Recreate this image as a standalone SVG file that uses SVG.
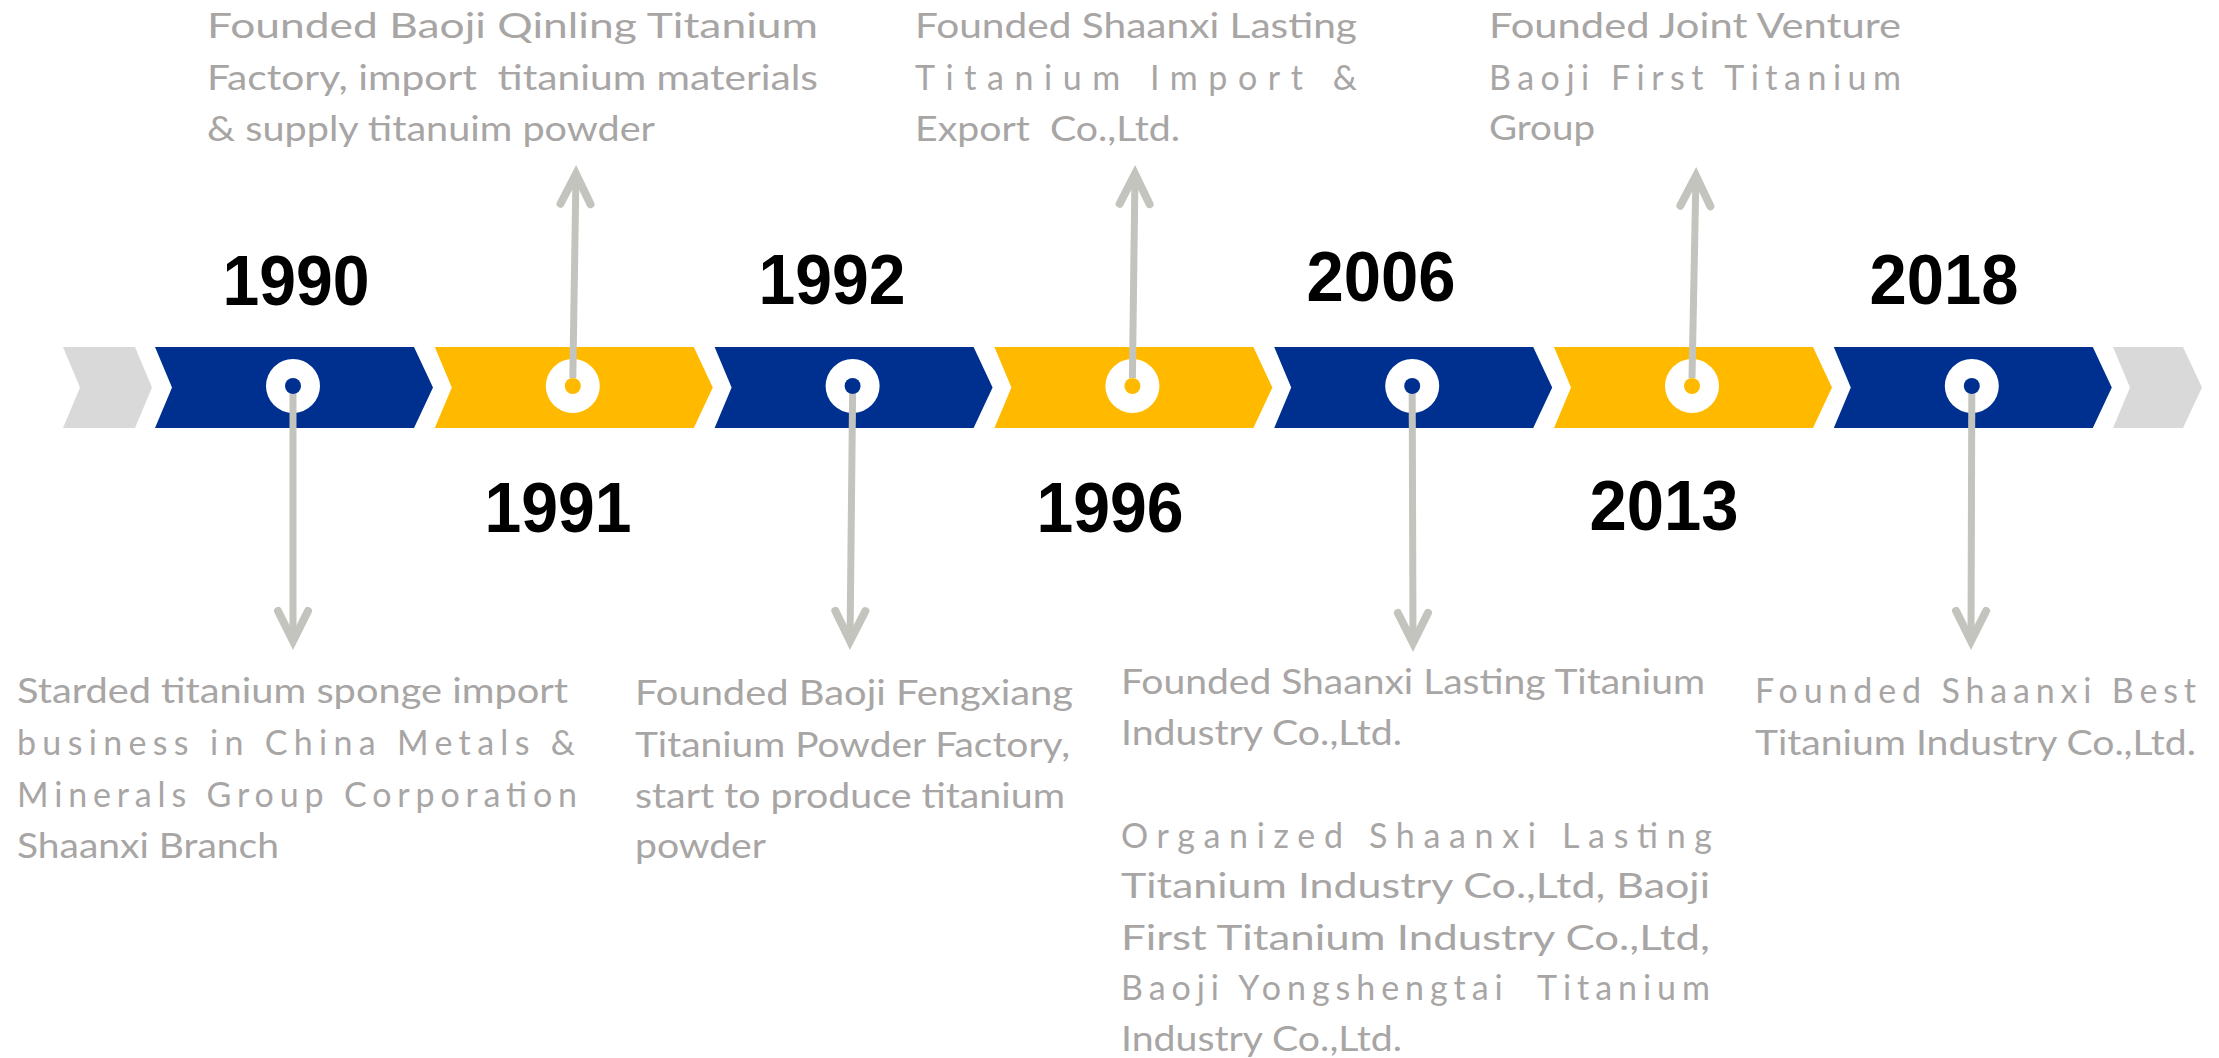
<svg xmlns="http://www.w3.org/2000/svg" width="2219" height="1058" viewBox="0 0 2219 1058">
<defs>
<style>
.blue{fill:#00308F}
.yellow{fill:#FFBA00}
.grey{fill:#D9D9D9}
.ring{fill:#FFFFFF}
.dotb{fill:#00308F}
.doty{fill:#FFBA00}
.year{font-family:"Liberation Sans",Arial,sans-serif;font-weight:700;font-size:70px;fill:#000;text-anchor:middle}
.desc{font-family:Lato,"Open Sans",sans-serif;font-size:34px;fill:#A8A5A5;white-space:pre}
.conn{stroke:#C4C4BE;stroke-width:7;fill:none;marker-end:url(#arr)}
</style>
<marker id="arr" markerUnits="userSpaceOnUse" viewBox="-40 -22 52 44" markerWidth="52" markerHeight="44" refX="1" refY="0" orient="auto">
<path d="M-30,-15 L0,0 L-30,15" fill="none" stroke="#C4C4BE" stroke-width="8" stroke-linecap="round" stroke-linejoin="miter"/>
</marker>
</defs>
<rect width="2219" height="1058" fill="#FFFFFF"/>

<g id="bar">
<polygon class="grey" points="63,347 135,347 152,387.5 135,428 63,428 80,387.5"/>
<polygon class="grey" points="2113,347 2183,347 2202,387.5 2183,428 2113,428 2130,387.5"/>
</g>

<g id="node-1990">
<polygon class="blue" points="155,347 414,347 433,387.5 414,428 155,428 172,387.5"/>
<circle class="ring" cx="293" cy="386" r="27"/>
<circle class="dotb" cx="293" cy="386" r="8"/>
<text class="year" x="296" y="305" textLength="147" lengthAdjust="spacingAndGlyphs">1990</text>
<text class="desc" x="17" y="703" textLength="551" lengthAdjust="spacingAndGlyphs">Starded titanium sponge import</text>
<text class="desc" x="17" y="755" textLength="558" lengthAdjust="spacing">business in China Metals &amp;</text>
<text class="desc" x="17" y="807" textLength="560" lengthAdjust="spacing">Minerals Group Corporation</text>
<text class="desc" x="17" y="858" textLength="262" lengthAdjust="spacingAndGlyphs">Shaanxi Branch</text>
</g>

<g id="node-1991">
<polygon class="yellow" points="434.8,347 693.8,347 712.8,387.5 693.8,428 434.8,428 451.8,387.5"/>
<circle class="ring" cx="572.8" cy="386" r="27"/>
<circle class="doty" cx="572.8" cy="386" r="8"/>
<text class="year" x="558" y="532" textLength="147" lengthAdjust="spacingAndGlyphs">1991</text>
<text class="desc" x="207" y="38" textLength="611" lengthAdjust="spacingAndGlyphs">Founded Baoji Qinling Titanium</text>
<text class="desc" x="207" y="90" textLength="611" lengthAdjust="spacingAndGlyphs">Factory, import  titanium materials</text>
<text class="desc" x="207" y="141" textLength="448" lengthAdjust="spacingAndGlyphs">&amp; supply titanuim powder</text>
</g>

<g id="node-1992">
<polygon class="blue" points="714.6,347 973.6,347 992.6,387.5 973.6,428 714.6,428 731.6,387.5"/>
<circle class="ring" cx="852.6" cy="386" r="27"/>
<circle class="dotb" cx="852.6" cy="386" r="8"/>
<text class="year" x="832" y="304" textLength="147" lengthAdjust="spacingAndGlyphs">1992</text>
<text class="desc" x="635" y="705" textLength="438" lengthAdjust="spacingAndGlyphs">Founded Baoji Fengxiang</text>
<text class="desc" x="635" y="757" textLength="435" lengthAdjust="spacingAndGlyphs">Titanium Powder Factory,</text>
<text class="desc" x="635" y="808" textLength="430" lengthAdjust="spacingAndGlyphs">start to produce titanium</text>
<text class="desc" x="635" y="858" textLength="131" lengthAdjust="spacingAndGlyphs">powder</text>
</g>

<g id="node-1996">
<polygon class="yellow" points="994.4,347 1253.4,347 1272.4,387.5 1253.4,428 994.4,428 1011.4,387.5"/>
<circle class="ring" cx="1132.4" cy="386" r="27"/>
<circle class="doty" cx="1132.4" cy="386" r="8"/>
<text class="year" x="1110" y="532" textLength="147" lengthAdjust="spacingAndGlyphs">1996</text>
<text class="desc" x="915" y="38" textLength="442" lengthAdjust="spacingAndGlyphs">Founded Shaanxi Lasting</text>
<text class="desc" x="915" y="90" textLength="442" lengthAdjust="spacing">Titanium Import &amp;</text>
<text class="desc" x="915" y="141" textLength="265" lengthAdjust="spacingAndGlyphs">Export  Co.,Ltd.</text>
</g>

<g id="node-2006">
<polygon class="blue" points="1274.2,347 1533.2,347 1552.2,387.5 1533.2,428 1274.2,428 1291.2,387.5"/>
<circle class="ring" cx="1412.2" cy="386" r="27"/>
<circle class="dotb" cx="1412.2" cy="386" r="8"/>
<text class="year" x="1381" y="301" textLength="149" lengthAdjust="spacingAndGlyphs">2006</text>
<text class="desc" x="1121" y="694" textLength="584" lengthAdjust="spacingAndGlyphs">Founded Shaanxi Lasting Titanium</text>
<text class="desc" x="1121" y="745" textLength="281" lengthAdjust="spacingAndGlyphs">Industry Co.,Ltd.</text>
<text class="desc" x="1121" y="848" textLength="591" lengthAdjust="spacing">Organized Shaanxi Lasting</text>
<text class="desc" x="1121" y="898" textLength="589" lengthAdjust="spacingAndGlyphs">Titanium Industry Co.,Ltd, Baoji</text>
<text class="desc" x="1121" y="950" textLength="589" lengthAdjust="spacingAndGlyphs">First Titanium Industry Co.,Ltd,</text>
<text class="desc" x="1121" y="1000" textLength="589" lengthAdjust="spacing">Baoji Yongshengtai  Titanium</text>
<text class="desc" x="1121" y="1051" textLength="281" lengthAdjust="spacingAndGlyphs">Industry Co.,Ltd.</text>
</g>

<g id="node-2013">
<polygon class="yellow" points="1554,347 1813,347 1832,387.5 1813,428 1554,428 1571,387.5"/>
<circle class="ring" cx="1692" cy="386" r="27"/>
<circle class="doty" cx="1692" cy="386" r="8"/>
<text class="year" x="1664" y="530" textLength="149" lengthAdjust="spacingAndGlyphs">2013</text>
<text class="desc" x="1489" y="38" textLength="412" lengthAdjust="spacingAndGlyphs">Founded Joint Venture</text>
<text class="desc" x="1489" y="90" textLength="412" lengthAdjust="spacing">Baoji First Titanium</text>
<text class="desc" x="1489" y="140" textLength="106" lengthAdjust="spacingAndGlyphs">Group</text>
</g>

<g id="node-2018">
<polygon class="blue" points="1833.8,347 2092.8,347 2111.8,387.5 2092.8,428 1833.8,428 1850.8,387.5"/>
<circle class="ring" cx="1971.8" cy="386" r="27"/>
<circle class="dotb" cx="1971.8" cy="386" r="8"/>
<text class="year" x="1944" y="304" textLength="149" lengthAdjust="spacingAndGlyphs">2018</text>
<text class="desc" x="1755" y="703" textLength="441" lengthAdjust="spacing">Founded Shaanxi Best</text>
<text class="desc" x="1755" y="755" textLength="441" lengthAdjust="spacingAndGlyphs">Titanium Industry Co.,Ltd.</text>
</g>

<g id="connectors">
<line class="conn" x1="293" y1="394" x2="293" y2="642"/>
<line class="conn" x1="572.8" y1="378" x2="576" y2="173"/>
<line class="conn" x1="852.6" y1="394" x2="850" y2="642"/>
<line class="conn" x1="1132.4" y1="378" x2="1135" y2="173"/>
<line class="conn" x1="1412.2" y1="394" x2="1413" y2="644"/>
<line class="conn" x1="1692" y1="378" x2="1696" y2="175"/>
<line class="conn" x1="1971.8" y1="394" x2="1971" y2="642"/>
</g>
</svg>
